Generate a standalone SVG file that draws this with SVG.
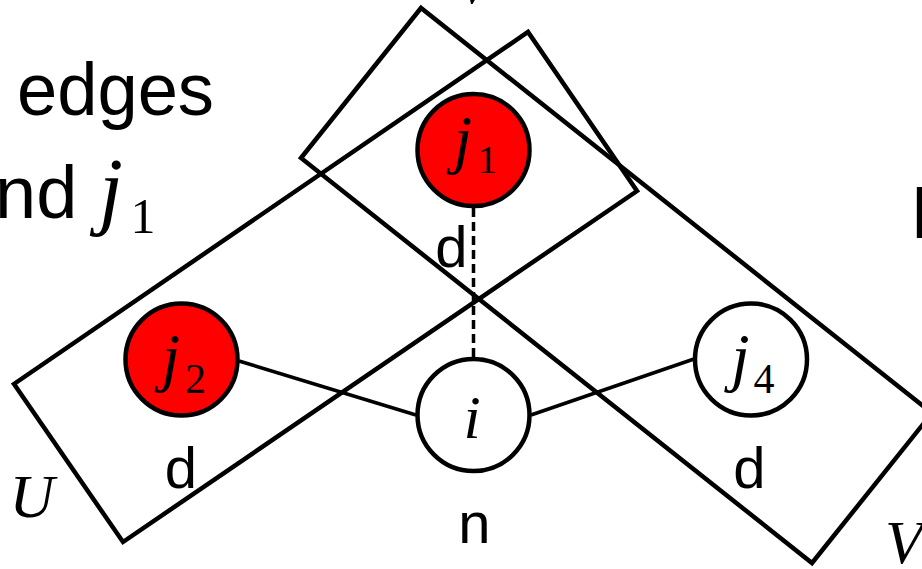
<svg xmlns="http://www.w3.org/2000/svg" width="922" height="569" viewBox="0 0 922 569">
<style>
.box{fill:none;stroke:#000;stroke-width:4.5;stroke-linejoin:miter}
.node{stroke:#000;stroke-width:4.5}
.red{fill:#ff0000}
.white{fill:#fff}
.edge{stroke:#000;stroke-width:3.5;fill:none}
.dash{stroke:#000;stroke-width:3.5;stroke-dasharray:9 5;fill:none}
.sans{font-family:"Liberation Sans",Arial,sans-serif;fill:#000}
.math{font-family:"Liberation Serif","Times New Roman",serif;font-style:italic;fill:#000}
.digit{font-family:"Liberation Serif","Times New Roman",serif;fill:#000}
</style>
<rect width="922" height="569" fill="#fff"/>
<g id="sets">
<polygon id="setU" class="box" points="14,384 123,542 637,191 528,32"/>
<polygon id="setV" class="box" points="421,8 301,158 812,563 932,413"/>
</g>
<g id="connectors">
<line class="dash" x1="473.5" y1="208" x2="473.5" y2="358"/>
<line class="edge" x1="239" y1="361" x2="416" y2="415"/>
<line class="edge" x1="531" y1="415" x2="694" y2="359"/>
</g>
<g id="node-j1">
<circle class="node red" cx="473.5" cy="150" r="56"/>
<text class="math" x="463" y="161" font-size="66" text-anchor="middle">j</text>
<text class="digit" x="487.5" y="173" font-size="40" text-anchor="middle">1</text>
</g>
<g id="node-j2">
<circle class="node red" cx="181.5" cy="359.5" r="56"/>
<text class="math" x="171" y="379" font-size="66" text-anchor="middle">j</text>
<text class="digit" x="195.5" y="393" font-size="42" text-anchor="middle">2</text>
</g>
<g id="node-i">
<circle class="node white" cx="473.5" cy="415" r="56"/>
<text class="math" x="472" y="438" font-size="62" text-anchor="middle">i</text>
</g>
<g id="node-j4">
<circle class="node white" cx="751" cy="359.5" r="56"/>
<text class="math" x="740.5" y="379" font-size="66" text-anchor="middle">j</text>
<text class="digit" x="764" y="393" font-size="42" text-anchor="middle">4</text>
</g>
<g id="labels">
<text class="sans" x="451.5" y="267" font-size="58" text-anchor="middle">d</text>
<text class="sans" x="181" y="488" font-size="58" text-anchor="middle">d</text>
<text class="sans" x="749.5" y="488" font-size="58" text-anchor="middle">d</text>
<text class="sans" x="474.5" y="543" font-size="58" text-anchor="middle">n</text>
<text class="math" x="32" y="517" font-size="62" text-anchor="middle">U</text>
<text class="math" x="885" y="563" font-size="62">V</text>
<text class="math" x="474" y="3" font-size="62" text-anchor="middle">V</text>
<text class="sans" x="17" y="115" font-size="74" textLength="197" lengthAdjust="spacingAndGlyphs">edges</text>
<text class="sans" x="-5" y="218" font-size="74">nd</text>
<text class="math" x="111" y="218" font-size="86" text-anchor="middle">j</text>
<text class="digit" x="143" y="233" font-size="50" text-anchor="middle">1</text>
<text class="sans" x="910" y="238" font-size="74">I</text>
</g>
</svg>
